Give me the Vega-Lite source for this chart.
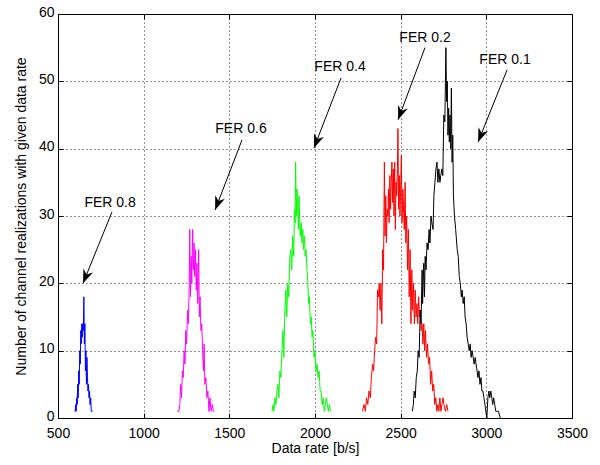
{
  "$schema": "https://vega.github.io/schema/vega-lite/v6.json",
  "width": 514,
  "height": 404,
  "autosize": {"type": "none"},
  "padding": {"left": 58, "top": 14, "right": 28, "bottom": 47},
  "background": "#ffffff",
  "config": {
    "view": {"stroke": "#000000", "strokeWidth": 1},
    "font": "Liberation Sans",
    "axis": {
      "labelFont": "Liberation Sans",
      "labelFontSize": 14,
      "labelColor": "#000000",
      "labelFlush": false,
      "labelOverlap": false,
      "titleFont": "Liberation Sans",
      "titleFontSize": 14,
      "titleFontWeight": "normal",
      "titleColor": "#000000",
      "domain": false,
      "tickColor": "#000000",
      "tickSize": -5,
      "labelPadding": 9,
      "grid": true,
      "gridColor": "#000000",
      "gridDash": [1, 3],
      "gridOpacity": 0.85
    }
  },
  "datasets": {
    "curves": [
      {"FER":"0.8","rate":596,"n":1},{"FER":"0.8","rate":601,"n":1},{"FER":"0.8","rate":603,"n":2},{"FER":"0.8","rate":606,"n":1},{"FER":"0.8","rate":609,"n":3},{"FER":"0.8","rate":612,"n":2},{"FER":"0.8","rate":615,"n":5},{"FER":"0.8","rate":618,"n":3},{"FER":"0.8","rate":621,"n":7},{"FER":"0.8","rate":624,"n":5},{"FER":"0.8","rate":627,"n":10},{"FER":"0.8","rate":630,"n":8},{"FER":"0.8","rate":633,"n":13},{"FER":"0.8","rate":636,"n":11},{"FER":"0.8","rate":639,"n":14},{"FER":"0.8","rate":642,"n":12},{"FER":"0.8","rate":645,"n":14},{"FER":"0.8","rate":648,"n":13},{"FER":"0.8","rate":651,"n":18},{"FER":"0.8","rate":654,"n":11},{"FER":"0.8","rate":657,"n":14},{"FER":"0.8","rate":660,"n":7},{"FER":"0.8","rate":663,"n":10},{"FER":"0.8","rate":666,"n":5},{"FER":"0.8","rate":669,"n":9},{"FER":"0.8","rate":672,"n":6},{"FER":"0.8","rate":675,"n":4},{"FER":"0.8","rate":678,"n":5},{"FER":"0.8","rate":681,"n":3},{"FER":"0.8","rate":684,"n":4},{"FER":"0.8","rate":687,"n":2},{"FER":"0.8","rate":691,"n":3},{"FER":"0.8","rate":694,"n":1},{"FER":"0.8","rate":699,"n":1},{"FER":"0.8","rate":703,"n":1},
      {"FER":"0.6","rate":1196,"n":1},{"FER":"0.6","rate":1206,"n":1},{"FER":"0.6","rate":1211,"n":2},{"FER":"0.6","rate":1216,"n":5},{"FER":"0.6","rate":1221,"n":3},{"FER":"0.6","rate":1226,"n":7},{"FER":"0.6","rate":1231,"n":6},{"FER":"0.6","rate":1236,"n":10},{"FER":"0.6","rate":1241,"n":8},{"FER":"0.6","rate":1246,"n":13},{"FER":"0.6","rate":1251,"n":11},{"FER":"0.6","rate":1256,"n":16},{"FER":"0.6","rate":1261,"n":14},{"FER":"0.6","rate":1266,"n":20},{"FER":"0.6","rate":1269,"n":28},{"FER":"0.6","rate":1273,"n":18},{"FER":"0.6","rate":1277,"n":24},{"FER":"0.6","rate":1281,"n":20},{"FER":"0.6","rate":1286,"n":28},{"FER":"0.6","rate":1290,"n":22},{"FER":"0.6","rate":1294,"n":26},{"FER":"0.6","rate":1298,"n":21},{"FER":"0.6","rate":1303,"n":25},{"FER":"0.6","rate":1307,"n":19},{"FER":"0.6","rate":1311,"n":23},{"FER":"0.6","rate":1316,"n":17},{"FER":"0.6","rate":1321,"n":25},{"FER":"0.6","rate":1325,"n":15},{"FER":"0.6","rate":1329,"n":18},{"FER":"0.6","rate":1334,"n":13},{"FER":"0.6","rate":1339,"n":14},{"FER":"0.6","rate":1344,"n":10},{"FER":"0.6","rate":1349,"n":7},{"FER":"0.6","rate":1353,"n":11},{"FER":"0.6","rate":1357,"n":5},{"FER":"0.6","rate":1363,"n":6},{"FER":"0.6","rate":1369,"n":3},{"FER":"0.6","rate":1375,"n":4},{"FER":"0.6","rate":1381,"n":1},{"FER":"0.6","rate":1387,"n":3},{"FER":"0.6","rate":1393,"n":1},{"FER":"0.6","rate":1401,"n":2},{"FER":"0.6","rate":1406,"n":1},{"FER":"0.6","rate":1413,"n":1},
      {"FER":"0.4","rate":1749,"n":1},{"FER":"0.4","rate":1755,"n":2},{"FER":"0.4","rate":1760,"n":1},{"FER":"0.4","rate":1766,"n":3},{"FER":"0.4","rate":1772,"n":2},{"FER":"0.4","rate":1778,"n":4},{"FER":"0.4","rate":1784,"n":5},{"FER":"0.4","rate":1789,"n":3},{"FER":"0.4","rate":1795,"n":7},{"FER":"0.4","rate":1801,"n":6},{"FER":"0.4","rate":1807,"n":10},{"FER":"0.4","rate":1813,"n":13},{"FER":"0.4","rate":1818,"n":9},{"FER":"0.4","rate":1824,"n":16},{"FER":"0.4","rate":1830,"n":19},{"FER":"0.4","rate":1835,"n":15},{"FER":"0.4","rate":1841,"n":20},{"FER":"0.4","rate":1847,"n":18},{"FER":"0.4","rate":1853,"n":24},{"FER":"0.4","rate":1859,"n":25},{"FER":"0.4","rate":1864,"n":22},{"FER":"0.4","rate":1870,"n":27},{"FER":"0.4","rate":1876,"n":24},{"FER":"0.4","rate":1880,"n":31},{"FER":"0.4","rate":1884,"n":29},{"FER":"0.4","rate":1887,"n":38},{"FER":"0.4","rate":1891,"n":30},{"FER":"0.4","rate":1895,"n":34},{"FER":"0.4","rate":1899,"n":31},{"FER":"0.4","rate":1903,"n":28},{"FER":"0.4","rate":1907,"n":33},{"FER":"0.4","rate":1914,"n":27},{"FER":"0.4","rate":1919,"n":29},{"FER":"0.4","rate":1924,"n":26},{"FER":"0.4","rate":1929,"n":28},{"FER":"0.4","rate":1933,"n":25},{"FER":"0.4","rate":1938,"n":27},{"FER":"0.4","rate":1943,"n":24},{"FER":"0.4","rate":1948,"n":25},{"FER":"0.4","rate":1953,"n":22},{"FER":"0.4","rate":1958,"n":20},{"FER":"0.4","rate":1963,"n":17},{"FER":"0.4","rate":1968,"n":18},{"FER":"0.4","rate":1973,"n":14},{"FER":"0.4","rate":1978,"n":15},{"FER":"0.4","rate":1983,"n":12},{"FER":"0.4","rate":1988,"n":13},{"FER":"0.4","rate":1994,"n":9},{"FER":"0.4","rate":2000,"n":10},{"FER":"0.4","rate":2006,"n":7},{"FER":"0.4","rate":2012,"n":8},{"FER":"0.4","rate":2018,"n":6},{"FER":"0.4","rate":2024,"n":7},{"FER":"0.4","rate":2030,"n":4},{"FER":"0.4","rate":2036,"n":4},{"FER":"0.4","rate":2042,"n":2},{"FER":"0.4","rate":2048,"n":3},{"FER":"0.4","rate":2054,"n":1},{"FER":"0.4","rate":2060,"n":2},{"FER":"0.4","rate":2066,"n":3},{"FER":"0.4","rate":2072,"n":2},{"FER":"0.4","rate":2078,"n":1},{"FER":"0.4","rate":2084,"n":2},{"FER":"0.4","rate":2091,"n":1},
      {"FER":"0.2","rate":2277,"n":1},{"FER":"0.2","rate":2286,"n":2},{"FER":"0.2","rate":2294,"n":1},{"FER":"0.2","rate":2301,"n":3},{"FER":"0.2","rate":2308,"n":2},{"FER":"0.2","rate":2315,"n":4},{"FER":"0.2","rate":2323,"n":3},{"FER":"0.2","rate":2329,"n":6},{"FER":"0.2","rate":2336,"n":8},{"FER":"0.2","rate":2342,"n":7},{"FER":"0.2","rate":2348,"n":10},{"FER":"0.2","rate":2354,"n":12},{"FER":"0.2","rate":2360,"n":11},{"FER":"0.2","rate":2365,"n":19},{"FER":"0.2","rate":2370,"n":18},{"FER":"0.2","rate":2375,"n":20},{"FER":"0.2","rate":2380,"n":16},{"FER":"0.2","rate":2385,"n":20},{"FER":"0.2","rate":2390,"n":14},{"FER":"0.2","rate":2395,"n":25},{"FER":"0.2","rate":2400,"n":22},{"FER":"0.2","rate":2405,"n":38},{"FER":"0.2","rate":2409,"n":27},{"FER":"0.2","rate":2413,"n":33},{"FER":"0.2","rate":2417,"n":26},{"FER":"0.2","rate":2421,"n":31},{"FER":"0.2","rate":2425,"n":30},{"FER":"0.2","rate":2429,"n":34},{"FER":"0.2","rate":2433,"n":29},{"FER":"0.2","rate":2437,"n":36},{"FER":"0.2","rate":2441,"n":31},{"FER":"0.2","rate":2445,"n":35},{"FER":"0.2","rate":2449,"n":38},{"FER":"0.2","rate":2453,"n":32},{"FER":"0.2","rate":2457,"n":37},{"FER":"0.2","rate":2461,"n":30},{"FER":"0.2","rate":2465,"n":38},{"FER":"0.2","rate":2469,"n":28},{"FER":"0.2","rate":2473,"n":35},{"FER":"0.2","rate":2477,"n":33},{"FER":"0.2","rate":2481,"n":37},{"FER":"0.2","rate":2484,"n":43},{"FER":"0.2","rate":2488,"n":31},{"FER":"0.2","rate":2492,"n":36},{"FER":"0.2","rate":2496,"n":30},{"FER":"0.2","rate":2500,"n":34},{"FER":"0.2","rate":2504,"n":39},{"FER":"0.2","rate":2508,"n":29},{"FER":"0.2","rate":2513,"n":34},{"FER":"0.2","rate":2521,"n":28},{"FER":"0.2","rate":2526,"n":35},{"FER":"0.2","rate":2530,"n":26},{"FER":"0.2","rate":2535,"n":30},{"FER":"0.2","rate":2540,"n":22},{"FER":"0.2","rate":2545,"n":28},{"FER":"0.2","rate":2550,"n":18},{"FER":"0.2","rate":2555,"n":25},{"FER":"0.2","rate":2560,"n":14},{"FER":"0.2","rate":2565,"n":22},{"FER":"0.2","rate":2570,"n":16},{"FER":"0.2","rate":2575,"n":20},{"FER":"0.2","rate":2580,"n":14},{"FER":"0.2","rate":2585,"n":19},{"FER":"0.2","rate":2590,"n":15},{"FER":"0.2","rate":2595,"n":17},{"FER":"0.2","rate":2600,"n":14},{"FER":"0.2","rate":2605,"n":18},{"FER":"0.2","rate":2610,"n":15},{"FER":"0.2","rate":2615,"n":16},{"FER":"0.2","rate":2620,"n":13},{"FER":"0.2","rate":2625,"n":14},{"FER":"0.2","rate":2630,"n":11},{"FER":"0.2","rate":2635,"n":14},{"FER":"0.2","rate":2640,"n":10},{"FER":"0.2","rate":2645,"n":13},{"FER":"0.2","rate":2651,"n":9},{"FER":"0.2","rate":2657,"n":11},{"FER":"0.2","rate":2663,"n":8},{"FER":"0.2","rate":2669,"n":9},{"FER":"0.2","rate":2675,"n":5},{"FER":"0.2","rate":2681,"n":7},{"FER":"0.2","rate":2687,"n":4},{"FER":"0.2","rate":2693,"n":5},{"FER":"0.2","rate":2699,"n":2},{"FER":"0.2","rate":2705,"n":3},{"FER":"0.2","rate":2711,"n":1},{"FER":"0.2","rate":2717,"n":2},{"FER":"0.2","rate":2723,"n":1},{"FER":"0.2","rate":2729,"n":3},{"FER":"0.2","rate":2735,"n":1},{"FER":"0.2","rate":2741,"n":2},{"FER":"0.2","rate":2747,"n":3},{"FER":"0.2","rate":2753,"n":2},{"FER":"0.2","rate":2761,"n":1},{"FER":"0.2","rate":2769,"n":2},{"FER":"0.2","rate":2776,"n":1},
      {"FER":"0.1","rate":2568,"n":1},{"FER":"0.1","rate":2574,"n":2},{"FER":"0.1","rate":2579,"n":4},{"FER":"0.1","rate":2585,"n":3},{"FER":"0.1","rate":2591,"n":6},{"FER":"0.1","rate":2597,"n":7},{"FER":"0.1","rate":2602,"n":10},{"FER":"0.1","rate":2608,"n":9},{"FER":"0.1","rate":2614,"n":16},{"FER":"0.1","rate":2619,"n":14},{"FER":"0.1","rate":2625,"n":22},{"FER":"0.1","rate":2628,"n":17},{"FER":"0.1","rate":2631,"n":20},{"FER":"0.1","rate":2635,"n":23},{"FER":"0.1","rate":2639,"n":18},{"FER":"0.1","rate":2643,"n":24},{"FER":"0.1","rate":2648,"n":22},{"FER":"0.1","rate":2654,"n":26},{"FER":"0.1","rate":2660,"n":25},{"FER":"0.1","rate":2666,"n":28},{"FER":"0.1","rate":2671,"n":26},{"FER":"0.1","rate":2677,"n":30},{"FER":"0.1","rate":2682,"n":29},{"FER":"0.1","rate":2689,"n":28},{"FER":"0.1","rate":2694,"n":33},{"FER":"0.1","rate":2700,"n":35},{"FER":"0.1","rate":2706,"n":37},{"FER":"0.1","rate":2712,"n":38},{"FER":"0.1","rate":2717,"n":35},{"FER":"0.1","rate":2723,"n":37},{"FER":"0.1","rate":2729,"n":35},{"FER":"0.1","rate":2734,"n":36},{"FER":"0.1","rate":2740,"n":37},{"FER":"0.1","rate":2746,"n":36},{"FER":"0.1","rate":2752,"n":45},{"FER":"0.1","rate":2758,"n":44},{"FER":"0.1","rate":2764,"n":55},{"FER":"0.1","rate":2768,"n":47},{"FER":"0.1","rate":2772,"n":50},{"FER":"0.1","rate":2776,"n":42},{"FER":"0.1","rate":2780,"n":46},{"FER":"0.1","rate":2784,"n":41},{"FER":"0.1","rate":2788,"n":45},{"FER":"0.1","rate":2792,"n":40},{"FER":"0.1","rate":2796,"n":49},{"FER":"0.1","rate":2800,"n":38},{"FER":"0.1","rate":2804,"n":42},{"FER":"0.1","rate":2808,"n":33},{"FER":"0.1","rate":2814,"n":30},{"FER":"0.1","rate":2821,"n":28},{"FER":"0.1","rate":2830,"n":25},{"FER":"0.1","rate":2836,"n":24},{"FER":"0.1","rate":2842,"n":21},{"FER":"0.1","rate":2848,"n":20},{"FER":"0.1","rate":2854,"n":18},{"FER":"0.1","rate":2859,"n":19},{"FER":"0.1","rate":2865,"n":17},{"FER":"0.1","rate":2871,"n":18},{"FER":"0.1","rate":2876,"n":15},{"FER":"0.1","rate":2882,"n":14},{"FER":"0.1","rate":2888,"n":12},{"FER":"0.1","rate":2894,"n":11},{"FER":"0.1","rate":2900,"n":10},{"FER":"0.1","rate":2906,"n":11},{"FER":"0.1","rate":2911,"n":9},{"FER":"0.1","rate":2917,"n":10},{"FER":"0.1","rate":2923,"n":9},{"FER":"0.1","rate":2929,"n":8},{"FER":"0.1","rate":2935,"n":9},{"FER":"0.1","rate":2940,"n":8},{"FER":"0.1","rate":2946,"n":7},{"FER":"0.1","rate":2951,"n":6},{"FER":"0.1","rate":2957,"n":7},{"FER":"0.1","rate":2963,"n":5},{"FER":"0.1","rate":2969,"n":6},{"FER":"0.1","rate":2974,"n":4},{"FER":"0.1","rate":2980,"n":4},{"FER":"0.1","rate":2986,"n":3},{"FER":"0.1","rate":2992,"n":2},{"FER":"0.1","rate":2997,"n":1},{"FER":"0.1","rate":3003,"n":0},{"FER":"0.1","rate":3009,"n":3},{"FER":"0.1","rate":3015,"n":4},{"FER":"0.1","rate":3020,"n":3},{"FER":"0.1","rate":3026,"n":4},{"FER":"0.1","rate":3032,"n":3},{"FER":"0.1","rate":3037,"n":2},{"FER":"0.1","rate":3043,"n":3},{"FER":"0.1","rate":3049,"n":2},{"FER":"0.1","rate":3055,"n":1},{"FER":"0.1","rate":3061,"n":1},{"FER":"0.1","rate":3071,"n":1},{"FER":"0.1","rate":3081,"n":0}
    ],
    "notes": [
      {"label":"FER 0.8","tx":804,"ty":31.9,"x":815,"y":30.6,"x2":646,"y2":20.0},
      {"label":"FER 0.6","tx":1568,"ty":42.9,"x":1574,"y":41.3,"x2":1417,"y2":30.9},
      {"label":"FER 0.4","tx":2146,"ty":52.1,"x":2152,"y":50.5,"x2":1994,"y2":40.1},
      {"label":"FER 0.2","tx":2642,"ty":56.4,"x":2642,"y":55.0,"x2":2485,"y2":44.3},
      {"label":"FER 0.1","tx":3109,"ty":53.2,"x":3121,"y":51.7,"x2":2952,"y2":41.0}
    ]
  },
  "layer": [
    {
      "layer": [
        {
          "data": {"name": "curves"},
          "mark": {"type": "line", "strokeWidth": 1, "clip": true},
          "encoding": {
            "x": {"field": "rate", "type": "quantitative", "scale": {"domain": [500, 3500], "nice": false, "zero": false},
                  "axis": {"title": "Data rate [b/s]", "values": [500,1000,1500,2000,2500,3000,3500], "format": "d", "labelPadding": 13, "titlePadding": 1}},
            "y": {"field": "n", "type": "quantitative", "scale": {"domain": [0, 60], "nice": false},
                  "axis": {"title": "Number of channel realizations with given data rate", "values": [0,10,20,30,40,50,60], "titlePadding": 10, "labelOffset": -2}},
            "color": {"field": "FER", "type": "nominal", "legend": null,
                      "scale": {"domain": ["0.8","0.6","0.4","0.2","0.1"], "range": ["#0000ff","#ff00ff","#00ff00","#ff0000","#000000"]}}
          }
        },
        {
          "data": {"name": "notes"},
          "mark": {"type": "rule", "color": "#000000", "strokeWidth": 1},
          "encoding": {
            "x": {"field": "x", "type": "quantitative", "title": "Data rate [b/s]"},
            "y": {"field": "y", "type": "quantitative", "title": "Number of channel realizations with given data rate"},
            "x2": {"field": "x2"},
            "y2": {"field": "y2"}
          }
        },
        {
          "data": {"name": "notes"},
          "transform": [
            {"calculate": "atan2((datum.x2 - datum.x) * 0.1713, (datum.y2 - datum.y) * 6.733) * 180 / PI", "as": "angle"}
          ],
          "mark": {"type": "point", "shape": "M0,0L0.6,1.6L0,1.1L-0.6,1.6Z", "filled": true, "color": "#000000", "opacity": 1, "size": 300, "strokeWidth": 0},
          "encoding": {
            "x": {"field": "x2", "type": "quantitative", "title": "Data rate [b/s]"},
            "y": {"field": "y2", "type": "quantitative", "title": "Number of channel realizations with given data rate"},
            "angle": {"field": "angle", "type": "quantitative", "scale": null}
          }
        },
        {
          "data": {"name": "notes"},
          "mark": {"type": "text", "font": "Liberation Sans", "fontSize": 14, "color": "#000000", "align": "center", "baseline": "middle"},
          "encoding": {
            "x": {"field": "tx", "type": "quantitative", "title": "Data rate [b/s]"},
            "y": {"field": "ty", "type": "quantitative", "title": "Number of channel realizations with given data rate"},
            "text": {"field": "label"}
          }
        }
      ]
    },
    {
      "data": {"name": "curves"},
      "mark": {"type": "line", "opacity": 0},
      "encoding": {
        "x": {"field": "rate", "type": "quantitative",
              "axis": {"orient": "top", "labels": false, "grid": false, "title": null, "values": [500,1000,1500,2000,2500,3000,3500]}},
        "y": {"field": "n", "type": "quantitative",
              "axis": {"orient": "right", "labels": false, "grid": false, "title": null, "values": [0,10,20,30,40,50,60]}},
        "detail": {"field": "FER"}
      }
    }
  ],
  "resolve": {"axis": {"x": "independent", "y": "independent"}}
}
